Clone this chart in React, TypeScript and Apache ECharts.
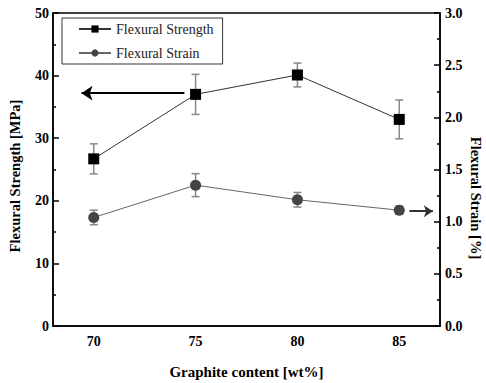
import React, { useEffect, useRef } from "react";
import * as echarts from "echarts";

const graphite = [70, 75, 80, 85];
const strength = [26.7, 37.0, 40.1, 33.0];
const strengthErr = [2.4, 3.2, 1.9, 3.1];
const strain = [1.04, 1.35, 1.21, 1.11];
const strainErr = [0.07, 0.11, 0.07, 0.04];
const xTicks = [70, 75, 80, 85];

const FONT = "'Liberation Serif', 'DejaVu Serif', serif";

function errSeries(name: string, ys: number[], errs: number[], yAxisIndex: number) {
  return {
    type: "custom",
    name: name + "_err",
    yAxisIndex,
    silent: true,
    z: 1,
    data: graphite.map((x, i) => [x, ys[i], errs[i]]),
    renderItem: (params: any, api: any) => {
      const x = api.value(0);
      const y = api.value(1);
      const e = api.value(2);
      const top = api.coord([x, y + e]);
      const bot = api.coord([x, y - e]);
      const cw = 4;
      const style = { stroke: "#888", lineWidth: 1.5 };
      return {
        type: "group",
        children: [
          { type: "line", shape: { x1: top[0], y1: top[1], x2: bot[0], y2: bot[1] }, style },
          { type: "line", shape: { x1: top[0] - cw, y1: top[1], x2: top[0] + cw, y2: top[1] }, style },
          { type: "line", shape: { x1: bot[0] - cw, y1: bot[1], x2: bot[0] + cw, y2: bot[1] }, style },
        ],
      };
    },
  };
}

export default function App() {
  const ref = useRef<HTMLDivElement>(null);
  useEffect(() => {
    const chart = echarts.init(ref.current!, null, { renderer: "svg" });
    const axisLabelStyle = { fontFamily: FONT, fontWeight: "bold", fontSize: 14, color: "#000" };
    const nameStyle = { fontFamily: FONT, fontWeight: "bold", fontSize: 14, color: "#000" };
    chart.setOption({
      animation: false,
      backgroundColor: "#fff",
      grid: {
        left: 53,
        right: 46,
        top: 13,
        bottom: 57,
        outerBoundsMode: "none",
        containLabel: false,
        show: true,
        borderColor: "#000",
        borderWidth: 1.5,
      },
      graphic: [
        {
          type: "text",
          x: 15,
          y: 176,
          rotation: Math.PI / 2,
          style: {
            text: "Flexural Strength [MPa]",
            font: "bold 14.5px " + FONT,
            fill: "#000",
            align: "center",
            verticalAlign: "middle",
          },
        },
        {
          type: "text",
          x: 476,
          y: 198,
          rotation: -Math.PI / 2,
          style: {
            text: "Flexural Strain [%]",
            font: "bold 14.5px " + FONT,
            fill: "#000",
            align: "center",
            verticalAlign: "middle",
          },
        },
      ],
      legend: {
        left: 62,
        top: 18,
        orient: "vertical",
        itemWidth: 32,
        itemHeight: 9,
        itemGap: 10,
        padding: [4, 9, 4, 16],
        borderColor: "#333",
        borderWidth: 1,
        textStyle: { fontFamily: FONT, fontSize: 14, color: "#222" },
        data: ["Flexural Strength", "Flexural Strain"],
      },
      xAxis: {
        type: "value",
        min: 68,
        max: 87,
        name: "Graphite content [wt%]",
        nameLocation: "middle",
        nameGap: 38,
        nameTextStyle: { ...nameStyle, fontSize: 15 },
        axisLine: { lineStyle: { color: "#000", width: 1.5 } },
        axisTick: { show: false },
        splitLine: { show: false },
        axisLabel: { ...axisLabelStyle, margin: 8, customValues: xTicks },
      },
      yAxis: [
        {
          type: "value",
          min: 0,
          max: 50,
          interval: 10,
          axisLine: { show: true, lineStyle: { color: "#000", width: 1.5 } },
          axisTick: { show: true, inside: true, length: 6, lineStyle: { color: "#000", width: 1.5 } },
          minorTick: { show: true, splitNumber: 2, length: 3, lineStyle: { color: "#000", width: 1.5 } },
          splitLine: { show: false },
          axisLabel: { ...axisLabelStyle, margin: 4 },
        },
        {
          type: "value",
          position: "right",
          min: 0,
          max: 3,
          interval: 0.5,
          axisLine: { show: true, lineStyle: { color: "#000", width: 1.5 } },
          axisTick: { show: true, inside: true, length: 6, lineStyle: { color: "#000", width: 1.5 } },
          minorTick: { show: true, splitNumber: 2, length: 3, lineStyle: { color: "#000", width: 1.5 } },
          splitLine: { show: false },
          axisLabel: { ...axisLabelStyle, margin: 5, formatter: (v: number) => v.toFixed(1) },
        },
      ],
      series: [
        errSeries("Flexural Strength", strength, strengthErr, 0),
        errSeries("Flexural Strain", strain, strainErr, 1),
        {
          type: "line",
          name: "Flexural Strength",
          yAxisIndex: 0,
          z: 3,
          data: graphite.map((x, i) => [x, strength[i]]),
          symbol: "rect",
          symbolSize: 11,
          itemStyle: { color: "#000" },
          lineStyle: { color: "#333", width: 1 },
          markLine: {
            silent: true,
            symbol: ["none", "arrow"],
            symbolSize: 11,
            label: { show: false },
            lineStyle: { color: "#000", width: 2, type: "solid" },
            data: [[{ coord: [74.45, 37.2] }, { coord: [69.4, 37.2] }]],
          },
        },
        {
          type: "line",
          name: "Flexural Strain",
          yAxisIndex: 1,
          z: 3,
          data: graphite.map((x, i) => [x, strain[i]]),
          symbol: "circle",
          symbolSize: 11,
          itemStyle: { color: "#444" },
          lineStyle: { color: "#666", width: 1 },
          markLine: {
            silent: true,
            symbol: ["none", "arrow"],
            symbolSize: 9,
            label: { show: false },
            lineStyle: { color: "#333", width: 2, type: "solid" },
            data: [[{ coord: [85.5, 1.1] }, { coord: [86.65, 1.1] }]],
          },
        },
      ],
    });
    return () => chart.dispose();
  }, []);
  return <div ref={ref} style={{ width: 486, height: 383, position: "absolute", left: 0, top: 0 }} />;
}
